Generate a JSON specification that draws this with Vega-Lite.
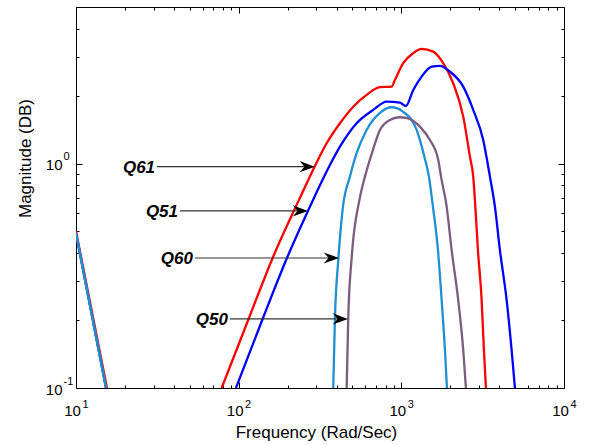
{
  "$schema": "https://vega.github.io/schema/vega-lite/v6.json",
  "width": 488,
  "height": 381,
  "autosize": {"type": "none"},
  "padding": {"left": 76, "top": 7, "right": 25, "bottom": 57},
  "background": "white",
  "config": {
    "view": {"stroke": "#000", "strokeWidth": 1},
    "font": "Liberation Sans",
    "axis": {
      "grid": false, "domain": false, "tickColor": "#000", "tickWidth": 1,
      "labelColor": "#000", "titleColor": "#000",
      "labelFont": "Liberation Sans", "titleFont": "Liberation Sans",
      "titleFontWeight": "normal", "labelFlush": false, "labelOverlap": false, "labelBound": false
    }
  },
  "datasets": {
    "curves": [
      {"s": "Q61", "seg": "main", "f": 78.6, "m": 0.1},
      {"s": "Q61", "seg": "main", "f": 115.7, "m": 0.2052},
      {"s": "Q61", "seg": "main", "f": 161.8, "m": 0.38},
      {"s": "Q61", "seg": "main", "f": 234.9, "m": 0.69},
      {"s": "Q61", "seg": "main", "f": 294.4, "m": 0.978},
      {"s": "Q61", "seg": "main", "f": 347.5, "m": 1.234},
      {"s": "Q61", "seg": "main", "f": 419.4, "m": 1.516},
      {"s": "Q61", "seg": "main", "f": 506.3, "m": 1.797},
      {"s": "Q61", "seg": "main", "f": 611.8, "m": 2.028},
      {"s": "Q61", "seg": "main", "f": 738.7, "m": 2.194},
      {"s": "Q61", "seg": "main", "f": 871.8, "m": 2.207},
      {"s": "Q61", "seg": "main", "f": 913, "m": 2.364},
      {"s": "Q61", "seg": "main", "f": 1027, "m": 2.808},
      {"s": "Q61", "seg": "main", "f": 1184, "m": 3.113},
      {"s": "Q61", "seg": "main", "f": 1333, "m": 3.25},
      {"s": "Q61", "seg": "main", "f": 1570, "m": 3.162},
      {"s": "Q61", "seg": "main", "f": 1809, "m": 2.808},
      {"s": "Q61", "seg": "main", "f": 2084, "m": 2.286},
      {"s": "Q61", "seg": "main", "f": 2402, "m": 1.622},
      {"s": "Q61", "seg": "main", "f": 2640, "m": 1.076},
      {"s": "Q61", "seg": "main", "f": 2767, "m": 0.876},
      {"s": "Q61", "seg": "main", "f": 2834, "m": 0.69},
      {"s": "Q61", "seg": "main", "f": 2957, "m": 0.4126},
      {"s": "Q61", "seg": "main", "f": 3115, "m": 0.247},
      {"s": "Q61", "seg": "main", "f": 3219, "m": 0.1477},
      {"s": "Q61", "seg": "main", "f": 3311, "m": 0.1},

      {"s": "Q51", "seg": "main", "f": 96.2, "m": 0.1},
      {"s": "Q51", "seg": "main", "f": 141.1, "m": 0.2052},
      {"s": "Q51", "seg": "main", "f": 198.1, "m": 0.38},
      {"s": "Q51", "seg": "main", "f": 266.6, "m": 0.616},
      {"s": "Q51", "seg": "main", "f": 364, "m": 0.988},
      {"s": "Q51", "seg": "main", "f": 419.4, "m": 1.192},
      {"s": "Q51", "seg": "main", "f": 531.3, "m": 1.516},
      {"s": "Q51", "seg": "main", "f": 672, "m": 1.738},
      {"s": "Q51", "seg": "main", "f": 812.3, "m": 1.892},
      {"s": "Q51", "seg": "main", "f": 980.4, "m": 1.873},
      {"s": "Q51", "seg": "main", "f": 1067, "m": 1.81},
      {"s": "Q51", "seg": "main", "f": 1184, "m": 2.134},
      {"s": "Q51", "seg": "main", "f": 1333, "m": 2.446},
      {"s": "Q51", "seg": "main", "f": 1536, "m": 2.711},
      {"s": "Q51", "seg": "main", "f": 1727, "m": 2.73},
      {"s": "Q51", "seg": "main", "f": 1989, "m": 2.576},
      {"s": "Q51", "seg": "main", "f": 2402, "m": 2.207},
      {"s": "Q51", "seg": "main", "f": 2767, "m": 1.738},
      {"s": "Q51", "seg": "main", "f": 3187, "m": 1.277},
      {"s": "Q51", "seg": "main", "f": 3505, "m": 0.876},
      {"s": "Q51", "seg": "main", "f": 3761, "m": 0.644},
      {"s": "Q51", "seg": "main", "f": 4036, "m": 0.4126},
      {"s": "Q51", "seg": "main", "f": 4439, "m": 0.247},
      {"s": "Q51", "seg": "main", "f": 4764, "m": 0.1477},
      {"s": "Q51", "seg": "main", "f": 4992, "m": 0.1},

      {"s": "Q60", "seg": "main", "f": 381.4, "m": 0.1},
      {"s": "Q60", "seg": "main", "f": 390.7, "m": 0.2052},
      {"s": "Q60", "seg": "main", "f": 410.6, "m": 0.38},
      {"s": "Q60", "seg": "main", "f": 437.5, "m": 0.642},
      {"s": "Q60", "seg": "main", "f": 483, "m": 0.876},
      {"s": "Q60", "seg": "main", "f": 531, "m": 1.114},
      {"s": "Q60", "seg": "main", "f": 612, "m": 1.415},
      {"s": "Q60", "seg": "main", "f": 738.7, "m": 1.685},
      {"s": "Q60", "seg": "main", "f": 871.8, "m": 1.786},
      {"s": "Q60", "seg": "main", "f": 1023, "m": 1.708},
      {"s": "Q60", "seg": "main", "f": 1242, "m": 1.415},
      {"s": "Q60", "seg": "main", "f": 1377, "m": 1.094},
      {"s": "Q60", "seg": "main", "f": 1478, "m": 0.876},
      {"s": "Q60", "seg": "main", "f": 1564, "m": 0.644},
      {"s": "Q60", "seg": "main", "f": 1679, "m": 0.4126},
      {"s": "Q60", "seg": "main", "f": 1769, "m": 0.247},
      {"s": "Q60", "seg": "main", "f": 1854, "m": 0.1477},
      {"s": "Q60", "seg": "main", "f": 1907, "m": 0.1},

      {"s": "Q50", "seg": "main", "f": 461.2, "m": 0.1},
      {"s": "Q50", "seg": "main", "f": 471.7, "m": 0.2052},
      {"s": "Q50", "seg": "main", "f": 494.9, "m": 0.38},
      {"s": "Q50", "seg": "main", "f": 552.6, "m": 0.69},
      {"s": "Q50", "seg": "main", "f": 597.5, "m": 0.876},
      {"s": "Q50", "seg": "main", "f": 669, "m": 1.152},
      {"s": "Q50", "seg": "main", "f": 738.7, "m": 1.415},
      {"s": "Q50", "seg": "main", "f": 851, "m": 1.568},
      {"s": "Q50", "seg": "main", "f": 970.6, "m": 1.612},
      {"s": "Q50", "seg": "main", "f": 1102, "m": 1.595},
      {"s": "Q50", "seg": "main", "f": 1301, "m": 1.464},
      {"s": "Q50", "seg": "main", "f": 1499, "m": 1.277},
      {"s": "Q50", "seg": "main", "f": 1686, "m": 1.04},
      {"s": "Q50", "seg": "main", "f": 1769, "m": 0.847},
      {"s": "Q50", "seg": "main", "f": 1893, "m": 0.655},
      {"s": "Q50", "seg": "main", "f": 2038, "m": 0.4126},
      {"s": "Q50", "seg": "main", "f": 2237, "m": 0.247},
      {"s": "Q50", "seg": "main", "f": 2402, "m": 0.1477},
      {"s": "Q50", "seg": "main", "f": 2495, "m": 0.1},

      {"s": "Q61", "seg": "left", "f": 10, "m": 0.5},
      {"s": "Q61", "seg": "left", "f": 15.5, "m": 0.1},
      {"s": "Q51", "seg": "left", "f": 10, "m": 0.49},
      {"s": "Q51", "seg": "left", "f": 15.3, "m": 0.1},
      {"s": "Q50", "seg": "left", "f": 10, "m": 0.49},
      {"s": "Q50", "seg": "left", "f": 15.3, "m": 0.1},
      {"s": "Q60", "seg": "left", "f": 10, "m": 0.49},
      {"s": "Q60", "seg": "left", "f": 15.3, "m": 0.1}
    ],
    "arrows": [
      {"q": "Q61", "y": 0.97, "x0": 31.5, "xs": 270, "tip": 294},
      {"q": "Q51", "y": 0.616, "x0": 43.6, "xs": 245, "tip": 266.6},
      {"q": "Q60", "y": 0.38, "x0": 53.9, "xs": 380, "tip": 413.5},
      {"q": "Q50", "y": 0.2032, "x0": 88.4, "xs": 430, "tip": 469.7}
    ]
  },
  "layer": [
    {
      "data": {"name": "curves"},
      "transform": [{"filter": "datum.seg == 'main'"}],
      "mark": {"type": "line", "strokeWidth": 2.3, "interpolate": "monotone", "clip": true},
      "encoding": {
        "x": {"field": "f", "type": "quantitative",
          "scale": {"type": "log", "domain": [10, 10000], "nice": false},
          "axis": {"orient": "bottom", "values": [10, 100, 1000, 10000], "tickSize": -6,
            "labelExpr": "'10'", "labelFontSize": 15, "labelPadding": 21, "labelOffset": -4, "labelBaseline": "top",
            "title": "Frequency (Rad/Sec)", "titleFontSize": 17, "titleX": 240, "titleY": 49, "titleBaseline": "alphabetic"}},
        "y": {"field": "m", "type": "quantitative",
          "scale": {"type": "log", "domain": [0.1, 5], "nice": false},
          "axis": {"orient": "left", "values": [0.1, 1], "tickSize": -6,
            "labelExpr": "'10'", "labelFontSize": 15, "labelPadding": 20, "labelOffset": 1, "labelBaseline": "middle",
            "title": "Magnitude (DB)", "titleFontSize": 17, "titleX": -46, "titleY": 151, "titleBaseline": "alphabetic", "titleAngle": -90}},
        "color": {"field": "s", "type": "nominal",
          "scale": {"domain": ["Q61", "Q51", "Q60", "Q50"], "range": ["#FF0000", "#0000FF", "#1E8FD0", "#7B5C7E"]},
          "legend": null}
      }
    },
    {
      "data": {"name": "arrows"},
      "mark": {"type": "rule", "color": "#333333", "strokeWidth": 1.2},
      "encoding": {
        "x": {"field": "x0", "type": "quantitative",
          "scale": {"type": "log", "domain": [10, 10000], "nice": false},
          "axis": {"orient": "bottom", "values": [20, 30, 40, 50, 60, 70, 80, 90, 200, 300, 400, 500, 600, 700, 800, 900, 2000, 3000, 4000, 5000, 6000, 7000, 8000, 9000],
            "tickSize": -3, "labels": false, "title": null}},
        "x2": {"field": "xs"},
        "y": {"field": "y", "type": "quantitative",
          "scale": {"type": "log", "domain": [0.1, 5], "nice": false},
          "axis": {"orient": "left", "values": [0.2, 0.3, 0.4, 0.5, 0.6, 0.7, 0.8, 0.9, 2, 3, 4],
            "tickSize": -3, "labels": false, "title": null}}
      }
    },
    {
      "data": {"name": "arrows"},
      "mark": {"type": "point", "shape": "M0,0 L-1.9,-0.7 L-1.3,0 L-1.9,0.7 Z", "filled": true, "color": "#000", "opacity": 1, "size": 256, "strokeWidth": 0},
      "encoding": {
        "x": {"field": "tip", "type": "quantitative",
          "scale": {"type": "log", "domain": [10, 10000], "nice": false},
          "axis": {"orient": "top", "values": [10, 100, 1000, 10000], "tickSize": -6, "labels": false, "title": null}},
        "y": {"field": "y", "type": "quantitative",
          "scale": {"type": "log", "domain": [0.1, 5], "nice": false},
          "axis": {"orient": "right", "values": [0.1, 1], "tickSize": -6, "labels": false, "title": null}}
      }
    },
    {
      "data": {"name": "arrows"},
      "mark": {"type": "text", "align": "right", "baseline": "middle", "dx": -2, "dy": 1, "fontSize": 17, "fontStyle": "italic", "fontWeight": "bold", "font": "Liberation Sans", "color": "#000"},
      "encoding": {
        "x": {"field": "x0", "type": "quantitative",
          "scale": {"type": "log", "domain": [10, 10000], "nice": false},
          "axis": {"orient": "top", "values": [20, 30, 40, 50, 60, 70, 80, 90, 200, 300, 400, 500, 600, 700, 800, 900, 2000, 3000, 4000, 5000, 6000, 7000, 8000, 9000],
            "tickSize": -3, "labels": false, "title": null}},
        "y": {"field": "y", "type": "quantitative",
          "scale": {"type": "log", "domain": [0.1, 5], "nice": false},
          "axis": {"orient": "right", "values": [0.2, 0.3, 0.4, 0.5, 0.6, 0.7, 0.8, 0.9, 2, 3, 4],
            "tickSize": -3, "labels": false, "title": null}},
        "text": {"field": "q"}
      }
    },
    {
      "data": {"name": "curves"},
      "transform": [{"filter": "datum.seg == 'left'"}],
      "mark": {"type": "line", "strokeWidth": 2.3, "clip": true},
      "encoding": {
        "x": {"field": "f", "type": "quantitative",
          "scale": {"type": "log", "domain": [10, 10000], "nice": false},
          "axis": {"orient": "bottom", "values": [10, 100, 1000, 10000], "ticks": false,
            "labelExpr": "datum.value == 10 ? '1' : datum.value == 100 ? '2' : datum.value == 1000 ? '3' : '4'",
            "labelFontSize": 11, "labelPadding": 10, "labelOffset": 9, "labelBaseline": "top", "title": null}},
        "y": {"field": "m", "type": "quantitative",
          "scale": {"type": "log", "domain": [0.1, 5], "nice": false},
          "axis": {"orient": "left", "values": [0.1, 1], "ticks": false,
            "labelExpr": "datum.value == 1 ? '0' : '-1'",
            "labelFontSize": 11, "labelPadding": 13, "labelAlign": "left", "labelOffset": -7, "labelBaseline": "middle", "title": null}},
        "color": {"field": "s", "type": "nominal",
          "scale": {"domain": ["Q61", "Q51", "Q60", "Q50"], "range": ["#FF0000", "#0000FF", "#1E8FD0", "#7B5C7E"]},
          "legend": null}
      }
    }
  ],
  "resolve": {"axis": {"x": "independent", "y": "independent"}}
}
